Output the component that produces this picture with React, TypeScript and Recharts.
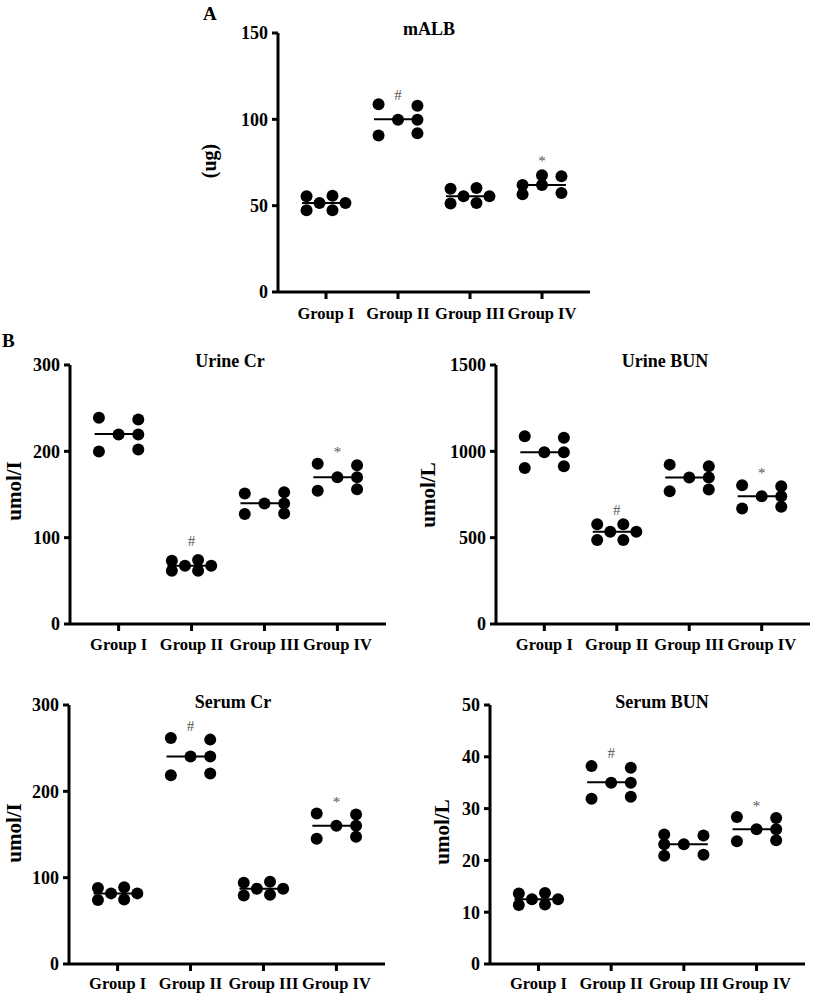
import React from 'react';
import { ScatterChart, Scatter, XAxis, YAxis } from 'recharts';

const GROUPS = ['Group I', 'Group II', 'Group III', 'Group IV'];
const X_TICKS = [1, 2, 3, 4];

// mALB (ug)
const MALB_VALUES = [
  [55.4, 47.3, 51.5, 55.8, 47.3, 51.5],
  [108.7, 90.7, 99.8, 107.9, 99.8, 91.9],
  [59.8, 51.2, 55.4, 60.2, 51.5, 55.4],
  [62, 56.6, 67.6, 62, 67, 57.3],
];
const MALB_MEDIANS = [51.5, 100, 55.4, 62];
const MALB_TICKS = [0, 50, 100, 150];

// Urine Cr (umol/l)
const URINE_CR_VALUES = [
  [239, 199.8, 219.4, 236.8, 219.4, 202],
  [73.3, 61.7, 67.5, 74, 61.7, 67.5],
  [151.2, 127.3, 139.6, 152.7, 139.6, 128],
  [185.5, 154.3, 170, 184, 170, 156.2],
];
const URINE_CR_MEDIANS = [220, 67.5, 140, 170];
const URINE_CR_TICKS = [0, 100, 200, 300];

// Urine BUN (umol/L)
const URINE_BUN_VALUES = [
  [1087, 904, 995, 1078, 995, 914],
  [578, 486, 534, 578, 486, 534],
  [923, 769, 848, 914, 848, 779],
  [804, 669, 740, 798, 740, 679],
];
const URINE_BUN_MEDIANS = [995, 534, 848, 740];
const URINE_BUN_TICKS = [0, 500, 1000, 1500];

// Serum Cr (umol/l)
const SERUM_CR_VALUES = [
  [87.9, 74, 81.8, 89, 74.8, 81.8],
  [261.9, 218.7, 240.3, 259.9, 240.3, 220.6],
  [94.1, 79.4, 87.2, 95.3, 80.2, 87.2],
  [174.3, 145, 160, 173.2, 160, 147.3],
];
const SERUM_CR_MEDIANS = [81.8, 240.3, 87.2, 160];
const SERUM_CR_TICKS = [0, 100, 200, 300];

// Serum BUN (umol/L)
const SERUM_BUN_VALUES = [
  [13.6, 11.4, 12.5, 13.7, 11.5, 12.5],
  [38.2, 31.9, 35.0, 37.9, 35.0, 32.3],
  [25.0, 23.1, 20.9, 23.1, 24.8, 21.1],
  [28.4, 23.7, 26.0, 28.2, 26.0, 23.9],
];
const SERUM_BUN_MEDIANS = [12.5, 35.1, 23.1, 26.0];
const SERUM_BUN_TICKS = [0, 10, 20, 30, 40, 50];

// significance marks: [group, height, sign]
const MALB_MARKS: [number, number, string][] = [[2, 114.3, '#'], [4, 75.7, '*']];
const URINE_CR_MARKS: [number, number, string][] = [[2, 96, '#'], [4, 199, '*']];
const URINE_BUN_MARKS: [number, number, string][] = [[2, 663, '#'], [4, 877, '*']];
const SERUM_CR_MARKS: [number, number, string][] = [[2, 275.4, '#'], [4, 187.8, '*']];
const SERUM_BUN_MARKS: [number, number, string][] = [[2, 40.7, '#'], [4, 30.5, '*']];

// prism-style column spread of the dots (half-steps from group centre)
const SPREAD_4 = [-3, -3, -1, 1, 1, 3];
const SPREAD_3 = [-3, -3, 0, 3, 3, 3];
const SPREAD_3L = [-3, -3, -3, 0, 3, 3];
const MALB_SPREAD = [SPREAD_4, SPREAD_3, SPREAD_4, [-3, -3, 0, 0, 3, 3]];
const URINE_CR_SPREAD = [SPREAD_3, SPREAD_4, SPREAD_3, SPREAD_3];
const URINE_BUN_SPREAD = [SPREAD_3, SPREAD_4, SPREAD_3, SPREAD_3];
const SERUM_CR_SPREAD = [SPREAD_4, SPREAD_3, SPREAD_4, SPREAD_3];
const SERUM_BUN_SPREAD = [SPREAD_4, SPREAD_3, SPREAD_3L, SPREAD_3];

const FONT = '"Liberation Serif", "Times New Roman", serif';
const STEP = 0.09;

const Dot = (p: any) => <circle cx={p.cx} cy={p.cy} r={6} fill="#000" />;
const MedianBar = (p: any) => (
  <line x1={p.cx - 24} x2={p.cx + 24} y1={p.cy} y2={p.cy} stroke="#000" strokeWidth={2} />
);
const Sign = (p: any) => (
  <text x={p.cx} y={p.cy} textAnchor="middle" dominantBaseline="central" fontSize={15}
    fill="#555555" fontFamily={FONT}>{p.payload.sign}</text>
);

type Box = { x: number; y: number; w: number; h: number };
type Plot = { x0: number; x1: number; y0: number; y1: number };

const Panel = ({ box, plot, title, titleAt, yLabel, yLabelAt, yLabelSize, values, spread, medians, marks, ticks, tickMargin }: any) => {
  const b = box as Box;
  const p = plot as Plot;
  const points = values.flatMap((vals: number[], g: number) =>
    vals.map((v, i) => ({ x: g + 1 + spread[g][i] * STEP, y: v })));
  const medianPts = medians.map((m: number, g: number) => ({ x: g + 1, y: m }));
  const markPts = marks.map((m: [number, number, string]) => ({ x: m[0], y: m[1], sign: m[2] }));
  return (
    <>
      <div style={{ position: 'absolute', left: b.x, top: b.y, width: b.w, height: b.h }}>
        <ScatterChart width={b.w} height={b.h}
          margin={{ top: p.y0 - b.y, right: b.x + b.w - p.x1, bottom: 0, left: 0 }}>
          <XAxis type="number" dataKey="x" domain={[1 / 3, 14 / 3]} ticks={X_TICKS} interval={0}
            tickFormatter={(v: number) => GROUPS[v - 1]} height={b.y + b.h - p.y1}
            stroke="#000" strokeWidth={3} tickSize={7} tickMargin={tickMargin}
            tick={{ fill: '#000', fontSize: 16.5, fontWeight: 'bold', fontFamily: FONT }} />
          <YAxis type="number" dataKey="y" domain={[0, ticks[ticks.length - 1]]} ticks={ticks} interval={0}
            width={p.x0 - b.x} stroke="#000" strokeWidth={3} tickSize={6} tickMargin={4}
            tick={{ fill: '#000', fontSize: 18, fontWeight: 'bold', fontFamily: FONT }} />
          <Scatter data={points} shape={Dot} isAnimationActive={false} />
          <Scatter data={medianPts} shape={MedianBar} isAnimationActive={false} />
          <Scatter data={markPts} shape={Sign} isAnimationActive={false} />
        </ScatterChart>
      </div>
      <div style={{ position: 'absolute', left: titleAt[0] - 100, width: 200, top: titleAt[1] - 15, textAlign: 'center',
        fontSize: 18, fontWeight: 'bold', lineHeight: 1 }}>{title}</div>
      <div style={{ position: 'absolute', left: yLabelAt[0], top: yLabelAt[1], transform: 'translate(-50%, -50%) rotate(-90deg)',
        fontSize: yLabelSize, fontWeight: 'bold', lineHeight: 1, whiteSpace: 'nowrap' }}>{yLabel}</div>
    </>
  );
};

export default function App() {
  return (
    <div style={{ position: 'absolute', left: 0, top: 0, width: 814, height: 996, background: '#fff', fontFamily: FONT, color: '#000' }}>
      <div style={{ position: 'absolute', left: 203, top: 4, fontSize: 19, fontWeight: 'bold', lineHeight: 1 }}>A</div>
      <div style={{ position: 'absolute', left: 2, top: 331, fontSize: 19, fontWeight: 'bold', lineHeight: 1 }}>B</div>
      <Panel box={{ x: 180, y: 0, w: 430, h: 330 }} plot={{ x0: 278, x1: 590, y0: 33, y1: 292 }}
        title="mALB" titleAt={[429, 35]} yLabel="(ug)" yLabelAt={[209, 161]} yLabelSize={20}
        values={MALB_VALUES} spread={MALB_SPREAD} medians={MALB_MEDIANS} marks={MALB_MARKS} ticks={MALB_TICKS} tickMargin={8} />
      <Panel box={{ x: 0, y: 340, w: 405, h: 320 }} plot={{ x0: 70, x1: 386, y0: 365, y1: 624 }}
        title="Urine Cr" titleAt={[230, 367]} yLabel="umol/I" yLabelAt={[14, 491]} yLabelSize={21}
        values={URINE_CR_VALUES} spread={URINE_CR_SPREAD} medians={URINE_CR_MEDIANS} marks={URINE_CR_MARKS} ticks={URINE_CR_TICKS} tickMargin={7} />
      <Panel box={{ x: 410, y: 340, w: 404, h: 320 }} plot={{ x0: 496, x1: 810, y0: 365, y1: 624 }}
        title="Urine BUN" titleAt={[665, 367]} yLabel="umol/L" yLabelAt={[428, 495]} yLabelSize={21}
        values={URINE_BUN_VALUES} spread={URINE_BUN_SPREAD} medians={URINE_BUN_MEDIANS} marks={URINE_BUN_MARKS} ticks={URINE_BUN_TICKS} tickMargin={7} />
      <Panel box={{ x: 0, y: 680, w: 405, h: 316 }} plot={{ x0: 69, x1: 385, y0: 705, y1: 964 }}
        title="Serum Cr" titleAt={[233, 708]} yLabel="umol/I" yLabelAt={[14, 833]} yLabelSize={21}
        values={SERUM_CR_VALUES} spread={SERUM_CR_SPREAD} medians={SERUM_CR_MEDIANS} marks={SERUM_CR_MARKS} ticks={SERUM_CR_TICKS} tickMargin={6} />
      <Panel box={{ x: 410, y: 680, w: 404, h: 316 }} plot={{ x0: 490, x1: 805, y0: 705, y1: 964 }}
        title="Serum BUN" titleAt={[662, 708]} yLabel="umol/L" yLabelAt={[442, 832]} yLabelSize={21}
        values={SERUM_BUN_VALUES} spread={SERUM_BUN_SPREAD} medians={SERUM_BUN_MEDIANS} marks={SERUM_BUN_MARKS} ticks={SERUM_BUN_TICKS} tickMargin={6} />
    </div>
  );
}
